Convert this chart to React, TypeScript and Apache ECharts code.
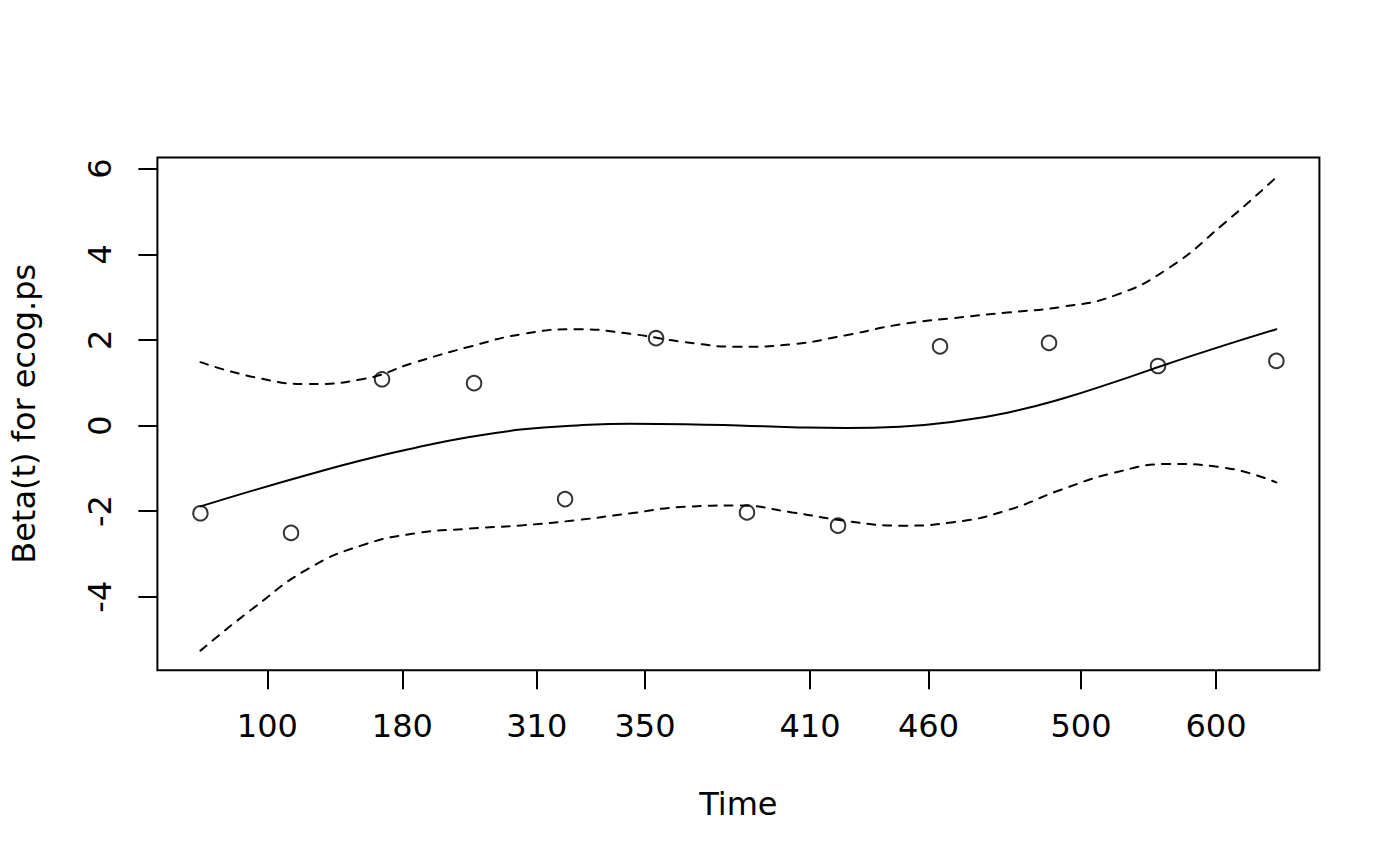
import React, { useEffect, useRef } from "react";
import * as echarts from "echarts";

// x values are on the transformed (Kaplan-Meier) time scale, 0..1
const pointX = [0, 0.0842, 0.1688, 0.2543, 0.3389, 0.4235, 0.508, 0.5926, 0.6874, 0.7887, 0.89, 1.0];
const pointY = [-2.05, -2.51, 1.08, 0.99, -1.72, 2.04, -2.03, -2.34, 1.85, 1.93, 1.39, 1.51];

const curveX = [0, 0.05, 0.1, 0.15, 0.2, 0.25, 0.3, 0.35, 0.4, 0.45, 0.5, 0.55, 0.6, 0.65, 0.7, 0.75, 0.8, 0.85, 0.9, 0.95, 1.0];
const fitY = [-1.89, -1.51, -1.15, -0.81, -0.52, -0.27, -0.09, 0.0, 0.04, 0.03, 0.0, -0.04, -0.06, -0.03, 0.09, 0.3, 0.62, 1.02, 1.45, 1.86, 2.25];
const upperY = [1.48, 1.13, 0.97, 1.08, 1.48, 1.84, 2.14, 2.25, 2.14, 1.95, 1.84, 1.9, 2.11, 2.36, 2.51, 2.64, 2.77, 3.04, 3.68, 4.69, 5.8];
const lowerY = [-5.26, -4.25, -3.35, -2.8, -2.52, -2.41, -2.33, -2.21, -2.05, -1.9, -1.87, -2.03, -2.23, -2.34, -2.26, -1.98, -1.5, -1.1, -0.9, -0.98, -1.33];

const xTickPos = [0.0622, 0.1877, 0.3126, 0.4132, 0.5665, 0.6767, 0.8184, 0.9439];
const xTickLabels = ["100", "180", "310", "350", "410", "460", "500", "600"];
const yTicks = [-4, -2, 0, 2, 4, 6];

const xLabel = "Time";
const yLabel = "Beta(t) for ecog.ps";

const FONT = "DejaVu Sans";

export default function App() {
  const ref = useRef<HTMLDivElement>(null);
  useEffect(() => {
    if (!ref.current) return;
    const chart = echarts.init(ref.current, null, { renderer: "svg" });
    const pair = (xs: number[], ys: number[]) => xs.map((x, i) => [x, ys[i]]);
    chart.setOption({
      animation: false,
      backgroundColor: "#ffffff",
      textStyle: { fontFamily: FONT },
      grid: {
        left: 157.4,
        top: 157.4,
        width: 1162,
        height: 512.8,
        show: true,
        borderColor: "#000",
        borderWidth: 2,
        backgroundColor: "transparent",
        containLabel: false,
      },
      xAxis: {
        type: "value",
        min: -0.04,
        max: 1.04,
        name: xLabel,
        nameLocation: "middle",
        nameGap: 118,
        nameTextStyle: { fontSize: 32, color: "#000", fontFamily: FONT },
        axisLine: { show: false, onZero: false },
        axisTick: { show: true, customValues: xTickPos, length: 19, lineStyle: { color: "#000", width: 2 } },
        axisLabel: {
          customValues: xTickPos,
          formatter: (v: number) => {
            const i = xTickPos.indexOf(v);
            return i >= 0 ? xTickLabels[i] : "";
          },
          fontSize: 32,
          color: "#000",
          margin: 40,
          fontFamily: FONT,
        },
        splitLine: { show: false },
      },
      yAxis: {
        type: "value",
        min: -5.717,
        max: 6.264,
        name: yLabel,
        nameLocation: "middle",
        nameGap: 117,
        nameTextStyle: { fontSize: 32, color: "#000", fontFamily: FONT },
        axisLine: { show: false, onZero: false },
        axisTick: { show: true, customValues: yTicks, length: 19, lineStyle: { color: "#000", width: 2 } },
        axisLabel: {
          customValues: yTicks,
          rotate: 90,
          fontSize: 32,
          color: "#000",
          margin: 41,
          fontFamily: FONT,
        },
        splitLine: { show: false },
      },
      series: [
        {
          type: "line",
          data: pair(curveX, fitY),
          showSymbol: false,
          smooth: true,
          lineStyle: { color: "#000", width: 2, cap: "round" },
          silent: true,
        },
        {
          type: "line",
          data: pair(curveX, upperY),
          showSymbol: false,
          smooth: true,
          lineStyle: { color: "#000", width: 2, type: [8, 8], cap: "round" },
          silent: true,
        },
        {
          type: "line",
          data: pair(curveX, lowerY),
          showSymbol: false,
          smooth: true,
          lineStyle: { color: "#000", width: 2, type: [8, 8], cap: "round" },
          silent: true,
        },
        {
          type: "scatter",
          data: pair(pointX, pointY),
          symbol: "circle",
          symbolSize: 14.5,
          itemStyle: { color: "rgba(0,0,0,0)", borderColor: "#000", borderWidth: 2 },
          silent: true,
        },
      ],
    });
    return () => chart.dispose();
  }, []);
  return (
    <div
      ref={ref}
      style={{ position: "absolute", left: 0, top: 0, width: 1400, height: 866, background: "#fff" }}
    />
  );
}
